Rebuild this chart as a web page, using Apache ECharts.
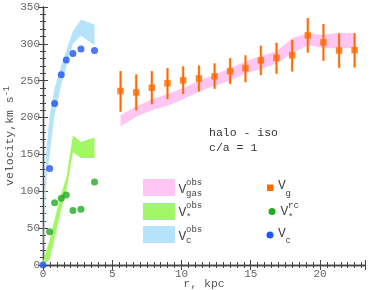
<!DOCTYPE html>
<html><head><meta charset="utf-8">
<script src="https://cdn.jsdelivr.net/npm/echarts/dist/echarts.min.js"></script>
<style>html,body{margin:0;padding:0;background:#fff}#c{width:374px;height:290px}</style>
</head><body><div id="c"></div>
<script>
// ---- data ----
const rInner = [0, 0.48, 0.84, 1.32, 1.68, 2.16, 2.74, 3.72];
const vC = [0, 131, 219, 258, 278, 287, 293, 291];
const rStar = [0.48, 0.84, 1.32, 1.68, 2.16, 2.74, 3.72];
const vStarRC = [45, 84.5, 90.5, 95, 74, 75.5, 112.5];

const rGas = [5.6, 6.73, 7.86, 8.99, 10.12, 11.26, 12.39, 13.51, 14.62, 15.73, 16.86, 17.99, 19.12, 20.25, 21.38, 22.5];
const vG   = [236, 234, 240.5, 246.5, 250.5, 253, 256, 263, 267, 277.5, 281, 284.5, 311.5, 302, 291, 291.5];
const vGLo = [208, 210, 218, 225, 232, 235.5, 239, 245.5, 248, 257.5, 259.5, 262.5, 288, 277, 267.5, 268];
const vGHi = [263, 258.5, 263, 267, 269.5, 270.5, 273.5, 280.5, 284.5, 297.5, 301.5, 305.5, 335, 327, 314, 314.5];

const gasBandLo = [188, 201, 210, 216, 225, 235, 243, 250, 260, 265.5, 273.5, 287, 298.5, 294, 294, 294];
const gasBandHi = [203, 215, 225, 232, 240, 250, 258, 267, 276, 283.5, 290, 307.5, 314.5, 312, 315, 314.5];

const cBandR  = [0, 0.12, 0.24, 0.48, 0.84, 1.32, 1.68, 2.16, 2.74, 3.72];
const cBandLo = [0, 70, 115, 150, 204, 245, 269, 300, 311, 298];
const cBandHi = [0, 110, 156, 203, 240, 271, 291, 317, 333, 326];

const sBandR  = [0, 0.48, 0.84, 1.32, 1.68, 2.16, 2.74, 3.72];
const sBandLo = [0, 7, 36, 76, 100, 153, 145, 145];
const sBandHi = [5, 34, 62, 97, 118, 176, 167, 173];

const xTicks = {min: 0, max: 23.25, interval: 5};
const yTicks = {min: 0, max: 350, interval: 50};

// ---- styles ----
const FONT = '"Liberation Mono", "DejaVu Sans Mono", monospace';
const cPink = '#ffc6f3', cLGreen = '#a2f764', cLBlue = '#b5e3fa';
const cOrange = '#ff6a00', cGreen = '#22aa22', cBlue = '#1f55f2';

function band(r, lo, hi, color) {
  return {
    type: 'custom', data: [[0, 0]], z: 1, silent: true,
    renderItem(params, api) {
      const pts = [];
      for (let i = 0; i < r.length; i++) pts.push(api.coord([r[i], hi[i]]));
      for (let i = r.length - 1; i >= 0; i--) pts.push(api.coord([r[i], lo[i]]));
      return {type: 'polygon', shape: {points: pts}, style: {fill: color}};
    }
  };
}

const axisCommon = {
  axisLine: {lineStyle: {color: '#444', width: 1.3}},
  axisTick: {inside: true, length: 5, lineStyle: {color: '#444'}},
  splitLine: {show: false}
};
const xMinor = {minorTick: {show: true, splitNumber: 10, length: 3, lineStyle: {color: '#444'}}};
const yMinor = {minorTick: {show: true, splitNumber: 5, length: 3, lineStyle: {color: '#444'}}};

const chart = echarts.init(document.getElementById('c'), null, {renderer: 'canvas'});
const legendTextColor = '#444';
function txt(x, y, s, size, align) {
  return {type: 'text', x, y, z: 100, style: {text: s, font: size + 'px ' + FONT, fill: legendTextColor, textAlign: align || 'left', textVerticalAlign: 'middle'}};
}

chart.setOption({
  animation: false,
  grid: {left: 43, right: 9, top: 7, bottom: 25, containLabel: false, outerBoundsMode: 'none'},
  xAxis: [
    Object.assign({type: 'value', position: 'bottom', min: xTicks.min, max: xTicks.max, interval: xTicks.interval,
      axisLabel: {color: '#666', fontFamily: FONT, fontSize: 11, margin: 4, showMaxLabel: false},
      name: 'r, kpc', nameLocation: 'middle', nameGap: 13, nameMoveOverlap: false,
      nameTextStyle: {color: '#555', fontFamily: FONT, fontSize: 11.5}}, axisCommon, xMinor),
    Object.assign({type: 'value', position: 'top', min: xTicks.min, max: xTicks.max, interval: xTicks.interval,
      axisLabel: {show: false}}, axisCommon, xMinor)
  ],
  yAxis: [
    Object.assign({type: 'value', position: 'left', min: yTicks.min, max: yTicks.max, interval: yTicks.interval,
      axisLabel: {color: '#666', fontFamily: FONT, fontSize: 11, margin: 3},
      name: 'velocity,km s{sup|-1}', nameLocation: 'middle', nameGap: 25, nameMoveOverlap: false,
      nameTextStyle: {color: '#555', fontFamily: FONT, fontSize: 11.5, lineHeight: 16,
        rich: {sup: {fontFamily: FONT, fontSize: 8.5, color: '#555', verticalAlign: 'top', lineHeight: 16}}}}, axisCommon, yMinor),
    Object.assign({type: 'value', position: 'right', min: yTicks.min, max: yTicks.max, interval: yTicks.interval,
      axisLabel: {show: false}}, axisCommon, yMinor)
  ],
  series: [
    band(rGas, gasBandLo, gasBandHi, cPink),
    band(cBandR, cBandLo, cBandHi, cLBlue),
    band(sBandR, sBandLo, sBandHi, cLGreen),
    {
      type: 'custom', z: 3, silent: true,
      data: rGas.map((r, i) => [r, vGLo[i], vGHi[i]]),
      encode: {x: 0, y: [1, 2]},
      renderItem(params, api) {
        const p1 = api.coord([api.value(0), api.value(1)]);
        const p2 = api.coord([api.value(0), api.value(2)]);
        return {type: 'group', children: [
          {type: 'line', shape: {x1: p1[0], y1: p1[1], x2: p2[0], y2: p2[1]}, style: {stroke: 'rgba(255,140,60,0.35)', lineWidth: 3.2}},
          {type: 'line', shape: {x1: p1[0], y1: p1[1], x2: p2[0], y2: p2[1]}, style: {stroke: cOrange, lineWidth: 1.8}}
        ]};
      }
    },
    {type: 'scatter', z: 4, clip: false, symbol: 'rect', symbolSize: 6.5, itemStyle: {color: cOrange},
      data: rGas.map((r, i) => [r, vG[i]])},
    {type: 'scatter', z: 4, clip: false, symbol: 'circle', symbolSize: 7, itemStyle: {color: cGreen},
      data: rStar.map((r, i) => [r, vStarRC[i]])},
    {type: 'scatter', z: 4, clip: false, symbol: 'circle', symbolSize: 7, itemStyle: {color: cBlue},
      data: rInner.map((r, i) => [r, vC[i]])}
  ],
  graphic: [
    {type: 'text', x: 209, y: 133, z: 100, style: {text: 'halo - iso', font: '11.5px ' + FONT, fill: '#333', textVerticalAlign: 'middle'}},
    {type: 'text', x: 209, y: 148, z: 100, style: {text: 'c/a = 1', font: '11.5px ' + FONT, fill: '#333', textVerticalAlign: 'middle'}},
    // left legend column
    {type: 'rect', shape: {x: 143, y: 179, width: 32, height: 17}, style: {fill: cPink}, z: 100},
    {type: 'rect', shape: {x: 143, y: 203, width: 32, height: 17}, style: {fill: cLGreen}, z: 100},
    {type: 'rect', shape: {x: 143, y: 226, width: 32, height: 17}, style: {fill: cLBlue}, z: 100},
    txt(178.5, 190, 'V', 13), txt(186, 183, 'obs', 9), txt(186, 194, 'gas', 9),
    txt(178.5, 213, 'V', 13), txt(186, 206, 'obs', 9), txt(186, 217.5, '*', 9),
    txt(178.5, 237, 'V', 13), txt(186, 229.5, 'obs', 9), txt(186, 240.5, 'c', 9),
    // right legend column
    {type: 'rect', shape: {x: 267, y: 184.5, width: 6.5, height: 6.5}, style: {fill: cOrange}, z: 100},
    {type: 'circle', shape: {cx: 272, cy: 211.5, r: 3.5}, style: {fill: cGreen}, z: 100},
    {type: 'circle', shape: {cx: 270, cy: 235, r: 3.5}, style: {fill: cBlue}, z: 100},
    txt(278, 185.5, 'V', 13), txt(285.5, 193.5, 'g', 9),
    txt(280.5, 211.5, 'V', 13), txt(288, 206, 'rc', 9), txt(288, 217.5, '*', 9),
    txt(278, 233.5, 'V', 13), txt(285.5, 240.5, 'c', 9)
  ]
});
</script></body></html>
